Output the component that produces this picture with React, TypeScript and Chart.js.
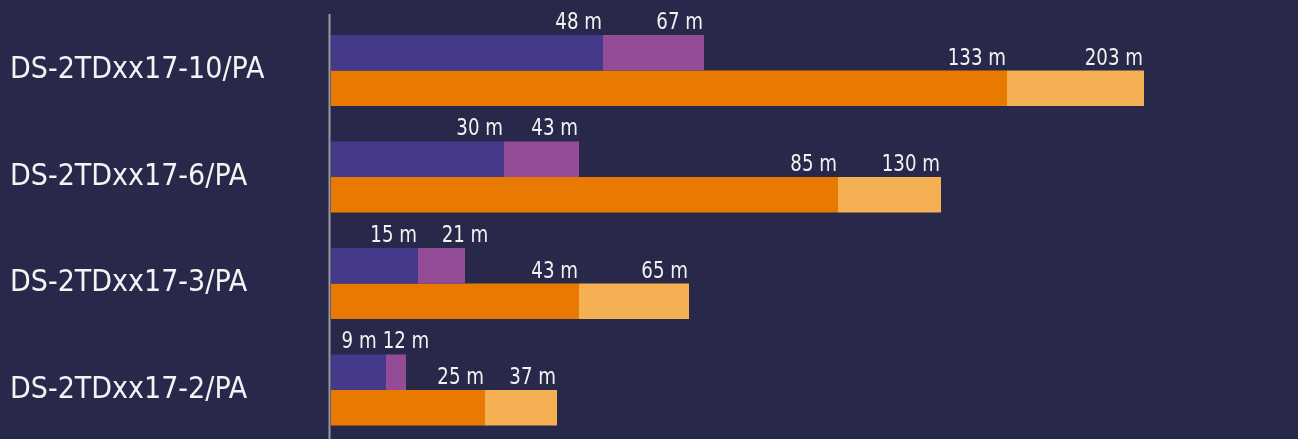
import React, { useEffect, useRef } from 'react';
import { Chart, registerables } from 'chart.js';

Chart.register(...registerables);

const categories = ['DS-2TDxx17-10/PA', 'DS-2TDxx17-6/PA', 'DS-2TDxx17-3/PA', 'DS-2TDxx17-2/PA'];

// bar lengths (chart units)
const purpleInner = [68, 43.25, 21.75, 13.75];
const purpleOuter = [93.25, 62, 33.5, 18.75];
const orangeInner = [169, 126.75, 62, 38.5];
const orangeOuter = [203.25, 152.5, 89.5, 56.5];

// value labels shown at the segment ends
const purpleInnerLabels = ['48 m', '30 m', '15 m', '9 m'];
const purpleOuterLabels = ['67 m', '43 m', '21 m', '12 m'];
const orangeInnerLabels = ['133 m', '85 m', '43 m', '25 m'];
const orangeOuterLabels = ['203 m', '130 m', '65 m', '37 m'];

const FONT = "'DejaVu Sans Condensed', 'DejaVu Sans', sans-serif";
const BG = '#28284a';
const LABEL_SX = 0.88;

const labelPlugin = {
  id: 'segLabels',
  afterDatasetsDraw(chart: any) {
    const ctx = chart.ctx;
    ctx.save();
    ctx.font = `23px ${FONT}`;
    ctx.fillStyle = '#f2f2f2';
    ctx.textAlign = 'left';
    ctx.textBaseline = 'alphabetic';
    const groups = [
      [0, 1, purpleInnerLabels, purpleOuterLabels],
      [2, 3, orangeInnerLabels, orangeOuterLabels],
    ] as any[];
    const draw = (p: any) => {
      ctx.save();
      ctx.translate(p.left, p.y);
      ctx.scale(LABEL_SX, 1);
      ctx.fillText(p.text, 0, 0);
      ctx.restore();
    };
    for (let i = 0; i < categories.length; i++) {
      for (const [a, b, la, lb] of groups) {
        const ea = chart.getDatasetMeta(a).data[i] as any;
        const eb = chart.getDatasetMeta(b).data[i] as any;
        const place = (el: any, text: string) => {
          const w = ctx.measureText(text).width * LABEL_SX;
          const seg = Math.abs(el.x - el.base);
          let left: number;
          if (seg >= w + 8) left = el.x - 1 - w;
          else left = el.x - w / 2;
          return { left, w, text, y: el.y - el.height / 2 - 6 };
        };
        const pa = place(ea, la[i]);
        const pb = place(eb, lb[i]);
        if (pb.left < pa.left + pa.w + 6) pa.left = pb.left - 6 - pa.w;
        draw(pa);
        draw(pb);
      }
    }
    ctx.restore();
  },
};

const axisLinePlugin = {
  id: 'axisLine',
  afterDraw(chart: any) {
    const ctx = chart.ctx;
    const { left, bottom } = chart.chartArea;
    ctx.save();
    ctx.strokeStyle = '#9a9a9a';
    ctx.lineWidth = 2;
    ctx.beginPath();
    ctx.moveTo(left - 1.5, 14);
    ctx.lineTo(left - 1.5, bottom + 5);
    ctx.stroke();
    ctx.restore();
  },
};

const bgPlugin = {
  id: 'bg',
  beforeDraw(chart: any) {
    const ctx = chart.ctx;
    ctx.save();
    ctx.fillStyle = BG;
    ctx.fillRect(0, 0, chart.width, chart.height);
    ctx.restore();
  },
};

export default function App() {
  const ref = useRef<HTMLCanvasElement>(null);
  useEffect(() => {
    const canvas = ref.current!;
    const diff = (outer: number[], inner: number[]) => outer.map((v, i) => v - inner[i]);
    const chart = new Chart(canvas, {
      type: 'bar',
      data: {
        labels: categories,
        datasets: [
          { data: purpleInner, backgroundColor: '#44398a', stack: 'p' },
          { data: diff(purpleOuter, purpleInner), backgroundColor: '#934c95', stack: 'p' },
          { data: orangeInner, backgroundColor: '#e87a02', stack: 'o' },
          { data: diff(orangeOuter, orangeInner), backgroundColor: '#f5b054', stack: 'o' },
        ],
      },
      options: {
        indexAxis: 'y',
        responsive: false,
        animation: false,
        devicePixelRatio: 1,
        datasets: { bar: { categoryPercentage: 0.667, barPercentage: 1, borderWidth: 0 } },
        layout: { padding: { left: 10, right: 7, top: 17.25, bottom: 1.75 } },
        plugins: { legend: { display: false }, tooltip: { enabled: false } },
        scales: {
          x: { display: false, stacked: true, min: 0, max: 240 },
          y: {
            stacked: true,
            grid: { display: false },
            border: { display: false },
            afterFit: (s: any) => {
              s.width = 321;
              s.paddingTop = 0;
              s.paddingBottom = 0;
            },
            ticks: {
              crossAlign: 'far',
              color: '#f4f4f4',
              font: { family: FONT, size: 30 },
              padding: 0,
            },
          },
        },
      },
      plugins: [bgPlugin, labelPlugin, axisLinePlugin],
    });
    return () => chart.destroy();
  }, []);
  return (
    <div style={{ position: 'fixed', left: 0, top: 0, width: 1298, height: 439, overflow: 'hidden', background: BG }}>
      <canvas ref={ref} width={1298} height={445} style={{ display: 'block' }} />
    </div>
  );
}
